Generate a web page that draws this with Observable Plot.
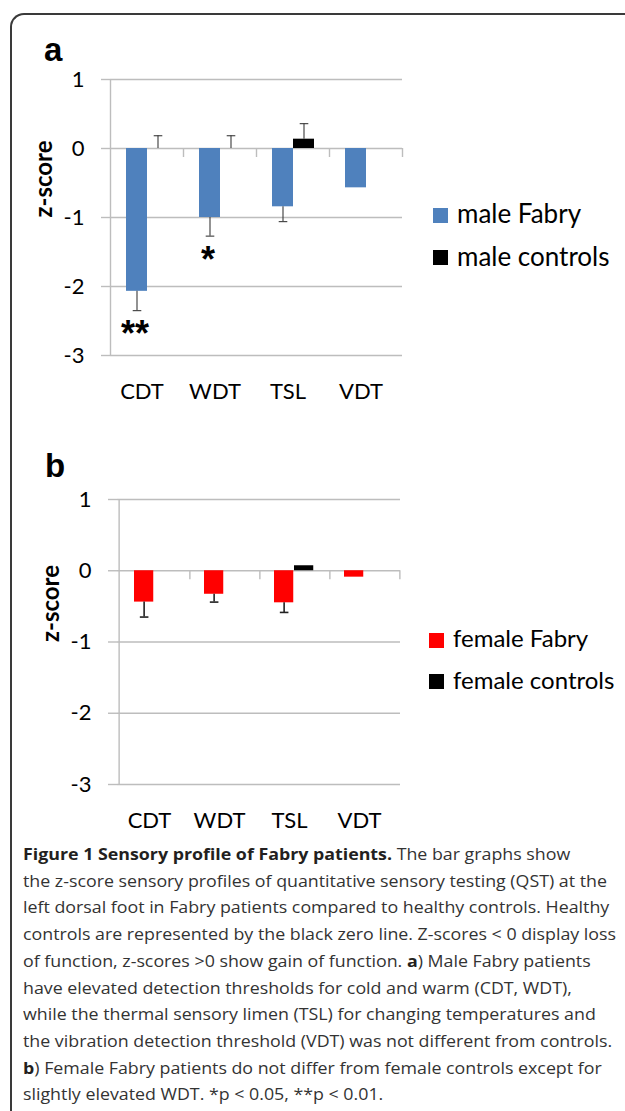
<!DOCTYPE html>
<html><head><meta charset="utf-8">
<script src="https://cdn.jsdelivr.net/npm/d3@7"></script>
<script src="https://cdn.jsdelivr.net/npm/@observablehq/plot@0.6"></script>
<style>
html,body{margin:0;padding:0;background:#fff;overflow:hidden;}
#page{position:relative;width:625px;height:1111px;overflow:hidden;background:#fff;}
#frame{position:absolute;left:10px;top:13px;width:700px;height:1200px;border-top:2px solid #3a3a3a;border-left:2px solid #3a3a3a;border-top-left-radius:14px;box-sizing:border-box;}
.svgwrap{position:absolute;left:0;width:625px;}
.plabel{position:absolute;font-family:"Liberation Sans",Arial,sans-serif;font-weight:bold;font-size:33px;line-height:33px;color:#000;}
.leg{position:absolute;font-family:Lato,sans-serif;color:#000;white-space:nowrap;line-height:30px;height:30px;}
.leg .sw{position:absolute;left:0;width:15px;height:15px;}
.leg .tx{position:absolute;left:24px;top:0;}
#caption{position:absolute;left:23px;top:841px;font-family:"Open Sans",sans-serif;font-size:16px;line-height:26.7px;color:#333;transform-origin:0 0;}
#caption div{white-space:nowrap;}
#caption b{font-weight:bold;color:#231f20;}
</style></head><body>
<div id="page">
  <div id="frame"></div>
  <div class="svgwrap" id="pa" style="top:0"></div>
  <div class="svgwrap" id="pb" style="top:420px"></div>
  <div class="plabel" style="left:44px;top:33px">a</div>
  <div class="plabel" style="left:45px;top:449px">b</div>
  <div id="legA"></div>
  <div id="legB"></div>
  <div id="caption"></div>
</div>
<script>
// ---- data ----
const categories = ["CDT", "WDT", "TSL", "VDT"];
const yTicks = [1, 0, -1, -2, -3];

const maleFabry       = [-2.07, -1.00, -0.845, -0.57];
const maleFabryErr    = [0.28, 0.27, 0.215, 0];
const maleControls    = [0, 0, 0.135, 0];
const maleControlsErr = [0.185, 0.185, 0.225, 0];
const maleSig         = ["**", "*", "", ""];

const femaleFabry       = [-0.44, -0.33, -0.45, -0.09];
const femaleFabryErr    = [0.21, 0.11, 0.135, 0];
const femaleControls    = [0, 0, 0.07, 0];
const femaleControlsErr = [0, 0, 0, 0];
const femaleSig         = ["", "", "", ""];

const legendA = ["male Fabry", "male controls"];
const legendB = ["female Fabry", "female controls"];
const yLabel = "z-score";

const captionLines = [
  ["<b>Figure 1 Sensory profile of Fabry patients.</b> The bar graphs show"],
  ["the z-score sensory profiles of quantitative sensory testing (QST) at the"],
  ["left dorsal foot in Fabry patients compared to healthy controls. Healthy"],
  ["controls are represented by the black zero line. Z-scores &lt; 0 display loss"],
  ["of function, z-scores &gt;0 show gain of function. <b>a</b>) Male Fabry patients"],
  ["have elevated detection thresholds for cold and warm (CDT, WDT),"],
  ["while the thermal sensory limen (TSL) for changing temperatures and"],
  ["the vibration detection threshold (VDT) was not different from controls."],
  ["<b>b</b>) Female Fabry patients do not differ from female controls except for"],
  ["slightly elevated WDT. *p &lt; 0.05, **p &lt; 0.01."]
];

const BLUE = "#4f81bd", RED = "#ff0000", BLACK = "#000000", GRID = "#bdbdbd";

const capSymbol = {
  draw(ctx, size) { const r = Math.sqrt(size / Math.PI); ctx.moveTo(-r, 0); ctx.lineTo(r, 0); }
};

function panel(cfg) {
  const width = 625;
  const {marginLeft, marginRight, marginTop, marginBottom, height, barL, barW} = cfg;
  const bw = (width - marginLeft - marginRight) / categories.length;
  const rows = categories.map((c, i) => ({
    cat: c, f: cfg.fabry[i], fe: cfg.fabryErr[i], c: cfg.controls[i], ce: cfg.controlsErr[i], s: cfg.sig[i]
  }));
  const fdx = barL + barW / 2 - bw / 2;
  const cdx = barL + barW * 1.5 - bw / 2;
  const fe = rows.filter(d => d.fe > 0), ce = rows.filter(d => d.ce > 0), sg = rows.filter(d => d.s);
  const zero = 0;
  return Plot.plot({
    width, height, marginLeft, marginRight, marginTop, marginBottom,
    style: {fontFamily: "Lato, sans-serif", fontSize: "22px", background: "transparent", color: "#000", overflow: "visible"},
    x: {domain: categories, padding: 0, label: null, axis: null},
    y: {domain: [yTicks[yTicks.length - 1], yTicks[0]], label: null, axis: null},
    marks: [
      Plot.gridY(yTicks, {stroke: GRID, strokeOpacity: 1, strokeWidth: 1.4}),
      Plot.axisY({ticks: yTicks, tickSize: 9, tickPadding: 17, stroke: GRID, strokeOpacity: 1, strokeWidth: 1.4, fill: "#000", tickFormat: d => String(d), label: null, fontSize: 22}),
      Plot.ruleX([categories[0]], {x: d => d, dx: -bw / 2, stroke: GRID, strokeWidth: 1.4}),
      Plot.ruleX(categories, {x: d => d, y1: () => zero, y2: () => zero, dx: bw / 2, insetBottom: -9, stroke: GRID, strokeWidth: 1.4}),
      Plot.axisX({tickSize: 0, tickPadding: 28, dx: -5, label: null, fontSize: 22}),
      Plot.barY(rows, {x: "cat", y: "f", fill: cfg.color, insetLeft: barL, insetRight: bw - barL - barW}),
      Plot.barY(rows, {x: "cat", y: "c", fill: BLACK, insetLeft: barL + barW, insetRight: bw - barL - 2 * barW}),
      Plot.ruleX(fe, {x: "cat", y1: "f", y2: d => d.f - d.fe, dx: fdx, stroke: cfg.errColor, strokeWidth: cfg.errWidth}),
      Plot.dot(fe, {x: "cat", y: d => d.f - d.fe, dx: fdx, symbol: capSymbol, r: 4.3, stroke: cfg.errColor, strokeWidth: cfg.errWidth, fill: "none"}),
      Plot.ruleX(ce, {x: "cat", y1: "c", y2: d => d.c + d.ce, dx: cdx, stroke: cfg.errColor, strokeWidth: cfg.errWidth}),
      Plot.dot(ce, {x: "cat", y: d => d.c + d.ce, dx: cdx, symbol: capSymbol, r: 4.3, stroke: cfg.errColor, strokeWidth: cfg.errWidth, fill: "none"}),
      Plot.text(sg, {x: "cat", y: d => d.f - d.fe, text: "s", dx: fdx - 2, dy: 24, fontSize: 36, fontWeight: "bold", fontFamily: "Liberation Sans, Arial, sans-serif", fill: "#000"}),
      Plot.text([yLabel], {frameAnchor: "left", text: d => d, rotate: -90, dx: -66, fontSize: 24, fontWeight: "bold", fill: "#000"})
    ]
  });
}

document.getElementById("pa").appendChild(panel({
  fabry: maleFabry, fabryErr: maleFabryErr, controls: maleControls, controlsErr: maleControlsErr, sig: maleSig,
  color: BLUE, errColor: "#3a3a3a", errWidth: 1.1,
  marginLeft: 110, marginRight: 223, marginTop: 79, marginBottom: 65, height: 420, barL: 16, barW: 21
}));
document.getElementById("pb").appendChild(panel({
  fabry: femaleFabry, fabryErr: femaleFabryErr, controls: femaleControls, controlsErr: femaleControlsErr, sig: femaleSig,
  color: RED, errColor: "#222", errWidth: 1.6,
  marginLeft: 117, marginRight: 225, marginTop: 79, marginBottom: 56, height: 420, barL: 15, barW: 20
}));

function legend(el, labels, colors, left, centers, fontSize) {
  labels.forEach((lab, i) => {
    const d = document.createElement("div");
    d.className = "leg";
    d.style.left = left + "px";
    d.style.fontSize = fontSize + "px";
    d.style.top = (centers[i] - 17) + "px";
    d.innerHTML = `<span class="sw" style="background:${colors[i]};top:${17 - 7.5}px"></span><span class="tx">${lab}</span>`;
    el.appendChild(d);
  });
}
legend(document.getElementById("legA"), legendA, [BLUE, BLACK], 433, [215, 257.5], 26);
legend(document.getElementById("legB"), legendB, [RED, BLACK], 429, [640, 681.5], 24);

const cap = document.getElementById("caption");
cap.innerHTML = captionLines.map(l => `<div><span>${l[0]}</span></div>`).join("");
const ref = cap.querySelectorAll("span")[3].getBoundingClientRect().width;
const k = 593 / ref;
cap.style.transform = `scaleX(${k})`;
</script>
</body></html>
